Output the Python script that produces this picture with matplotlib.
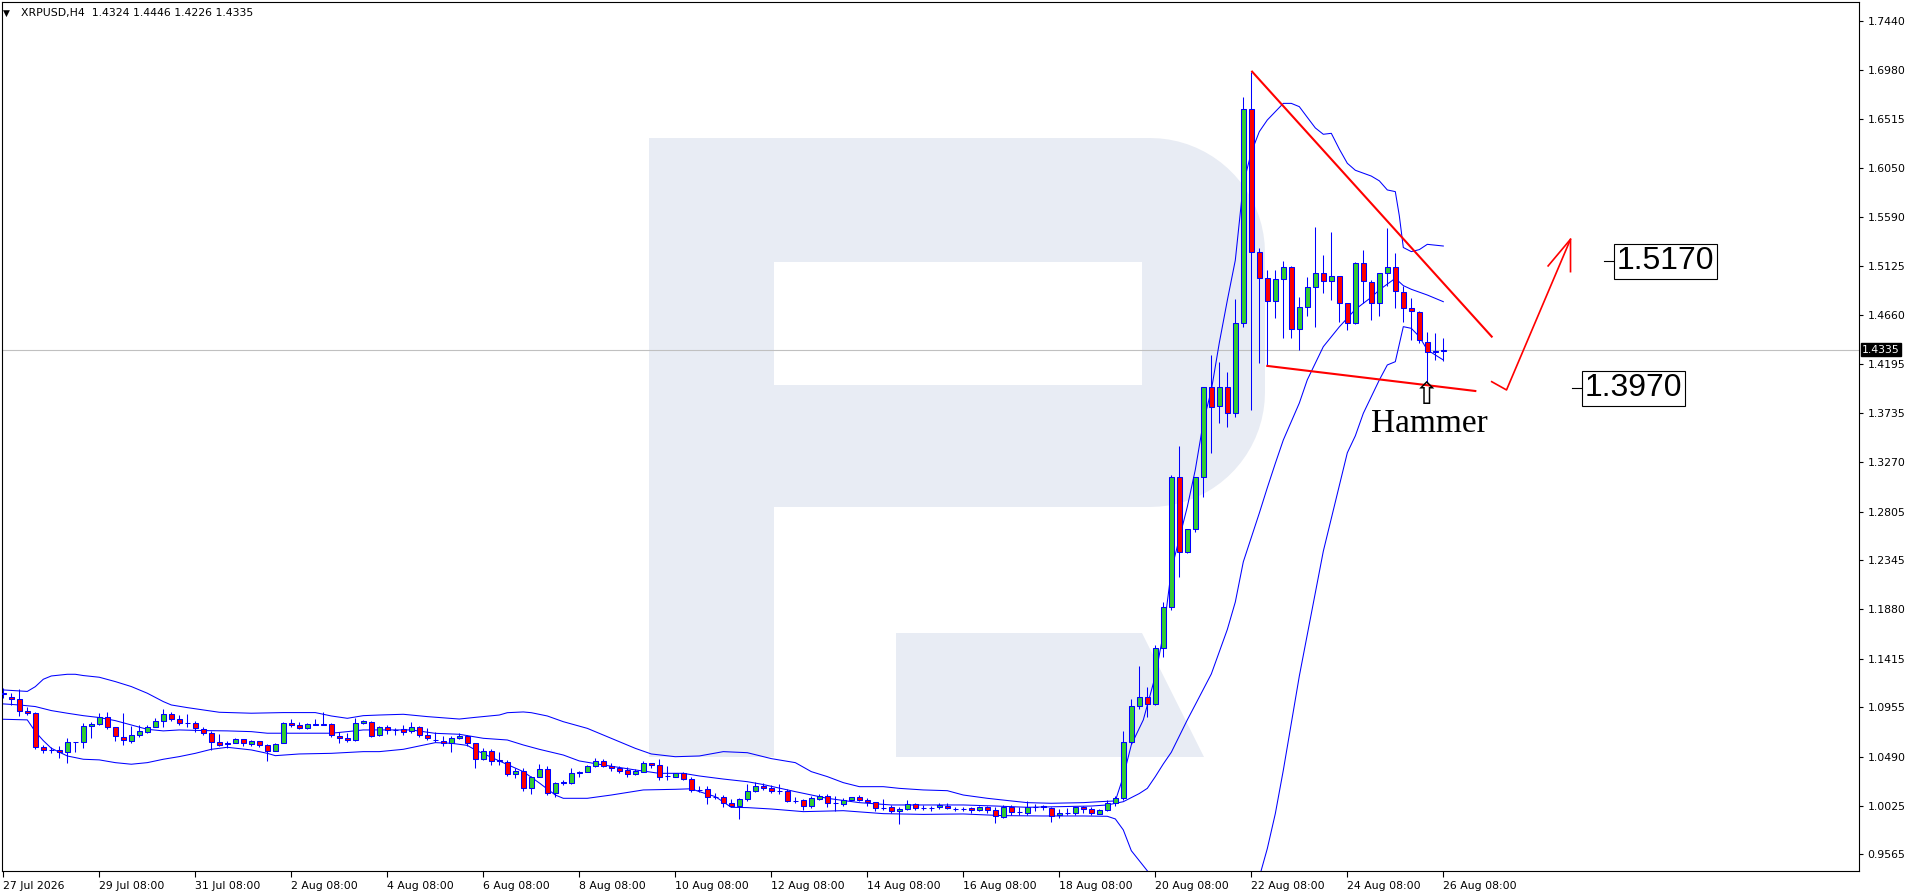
import matplotlib
matplotlib.use('Agg')

import numpy as np
import matplotlib.pyplot as plt
from matplotlib.patches import Polygon
from matplotlib.transforms import blended_transform_factory

# --- candles XRPUSD H4 (bar 0 = 27 Jul 2026) ---
opens = [
    1.1088, 1.1050, 1.1031, 1.0921, 1.0899, 1.0577, 1.0552, 1.0552, 1.0530, 1.0628,
    1.0624, 1.0776, 1.0795, 1.0861, 1.0766, 1.0678, 1.0640, 1.0691, 1.0725, 1.0766,
    1.0826, 1.0889, 1.0842, 1.0804, 1.0804, 1.0754, 1.0709, 1.0624, 1.0618, 1.0618,
    1.0653, 1.0606, 1.0634, 1.0596, 1.0539, 1.0615, 1.0807, 1.0785, 1.0757, 1.0788,
    1.0795, 1.0795, 1.0687, 1.0662, 1.0647, 1.0804, 1.0820, 1.0690, 1.0772, 1.0744,
    1.0747, 1.0731, 1.0766, 1.0693, 1.0650, 1.0640, 1.0621, 1.0662, 1.0684, 1.0615,
    1.0463, 1.0545, 1.0457, 1.0441, 1.0325, 1.0353, 1.0189, 1.0293, 1.0369, 1.0142,
    1.0240, 1.0237, 1.0337, 1.0341, 1.0400, 1.0451, 1.0403, 1.0378, 1.0362, 1.0325,
    1.0347, 1.0432, 1.0410, 1.0305, 1.0300, 1.0331, 1.0274, 1.0174, 1.0180, 1.0107,
    1.0111, 1.0048, 1.0026, 1.0085, 1.0164, 1.0211, 1.0192, 1.0164, 1.0164, 1.0073,
    1.0079, 1.0022, 1.0089, 1.0117, 1.0048, 1.0041, 1.0079, 1.0104, 1.0079, 1.0057,
    1.0004, 1.0010, 0.9972, 0.9991, 1.0038, 1.0004, 1.0007, 1.0010, 1.0022, 0.9997,
    0.9997, 1.0003, 0.9981, 1.0016, 0.9985, 0.9915, 1.0010, 0.9969, 0.9959, 1.0016,
    1.0022, 1.0007, 0.9937, 0.9959, 0.9959, 1.0010, 0.9991, 0.9944, 0.9985, 1.0048,
    1.0095, 1.0630, 1.0971, 1.1056, 1.0987, 1.1513, 1.1906, 1.3129, 1.2426, 1.2637,
    1.3129, 1.3979, 1.3803, 1.3979, 1.3733, 1.4584, 1.6606, 1.5261, 1.5009, 1.4794,
    1.5000, 1.5113, 1.4527, 1.4735, 1.4924, 1.5056, 1.4987, 1.5031, 1.4772, 1.4584,
    1.5151, 1.4977, 1.4772, 1.5056, 1.5119, 1.4883, 1.4725, 1.4694, 1.4410, 1.4309,
    1.4324]
highs = [
    1.1135, 1.1088, 1.1125, 1.0962, 1.0914, 1.0599, 1.0584, 1.0590, 1.0662, 1.0628,
    1.0804, 1.0820, 1.0899, 1.0914, 1.0766, 1.0899, 1.0779, 1.0788, 1.0788, 1.0851,
    1.0939, 1.0914, 1.0883, 1.0889, 1.0829, 1.0766, 1.0732, 1.0700, 1.0640, 1.0662,
    1.0653, 1.0647, 1.0640, 1.0609, 1.0621, 1.0820, 1.0842, 1.0820, 1.0804, 1.0842,
    1.0914, 1.0804, 1.0725, 1.0709, 1.0851, 1.0836, 1.0826, 1.0780, 1.0788, 1.0756,
    1.0788, 1.0813, 1.0778, 1.0756, 1.0718, 1.0684, 1.0684, 1.0709, 1.0693, 1.0621,
    1.0567, 1.0558, 1.0536, 1.0457, 1.0378, 1.0378, 1.0306, 1.0416, 1.0400, 1.0252,
    1.0268, 1.0378, 1.0353, 1.0410, 1.0479, 1.0463, 1.0426, 1.0400, 1.0394, 1.0369,
    1.0448, 1.0432, 1.0463, 1.0400, 1.0337, 1.0347, 1.0299, 1.0211, 1.0211, 1.0148,
    1.0126, 1.0085, 1.0095, 1.0230, 1.0252, 1.0237, 1.0221, 1.0230, 1.0180, 1.0111,
    1.0085, 1.0117, 1.0136, 1.0136, 1.0117, 1.0095, 1.0111, 1.0126, 1.0095, 1.0063,
    1.0085, 1.0032, 1.0010, 1.0079, 1.0048, 1.0032, 1.0022, 1.0048, 1.0048, 1.0016,
    1.0016, 1.0016, 1.0022, 1.0022, 1.0010, 1.0032, 1.0032, 1.0010, 1.0073, 1.0041,
    1.0032, 1.0016, 0.9991, 1.0000, 1.0016, 1.0022, 1.0016, 0.9991, 1.0079, 1.0117,
    1.0732, 1.1031, 1.1346, 1.1144, 1.1544, 1.1954, 1.3151, 1.3425, 1.2637, 1.3129,
    1.3979, 1.4285, 1.4222, 1.4127, 1.4810, 1.6725, 1.6962, 1.5292, 1.5088, 1.5088,
    1.5176, 1.5125, 1.4829, 1.5018, 1.5497, 1.5229, 1.5450, 1.5031, 1.4772, 1.5166,
    1.5276, 1.4993, 1.5056, 1.5481, 1.5251, 1.4936, 1.4820, 1.4703, 1.4505, 1.4489,
    1.4446]
lows = [
    1.1040, 1.0977, 1.0870, 1.0883, 1.0565, 1.0527, 1.0527, 1.0473, 1.0432, 1.0536,
    1.0574, 1.0662, 1.0788, 1.0747, 1.0640, 1.0599, 1.0621, 1.0678, 1.0709, 1.0766,
    1.0772, 1.0829, 1.0788, 1.0766, 1.0725, 1.0694, 1.0552, 1.0590, 1.0568, 1.0615,
    1.0590, 1.0590, 1.0584, 1.0451, 1.0539, 1.0615, 1.0772, 1.0747, 1.0754, 1.0785,
    1.0788, 1.0678, 1.0615, 1.0631, 1.0640, 1.0795, 1.0678, 1.0680, 1.0700, 1.0693,
    1.0693, 1.0709, 1.0678, 1.0646, 1.0630, 1.0589, 1.0536, 1.0652, 1.0589, 1.0385,
    1.0457, 1.0410, 1.0410, 1.0306, 1.0284, 1.0167, 1.0136, 1.0293, 1.0126, 1.0111,
    1.0221, 1.0230, 1.0300, 1.0341, 1.0394, 1.0388, 1.0356, 1.0331, 1.0293, 1.0315,
    1.0347, 1.0378, 1.0268, 1.0268, 1.0293, 1.0268, 1.0158, 1.0158, 1.0038, 1.0085,
    1.0010, 1.0016, 0.9896, 1.0070, 1.0158, 1.0174, 1.0148, 1.0136, 1.0063, 1.0048,
    0.9985, 1.0000, 1.0079, 1.0016, 0.9978, 1.0022, 1.0073, 1.0073, 1.0022, 0.9978,
    0.9985, 0.9953, 0.9849, 0.9985, 0.9985, 0.9985, 0.9978, 0.9991, 0.9991, 0.9978,
    0.9978, 0.9959, 0.9978, 0.9953, 0.9865, 0.9906, 0.9937, 0.9937, 0.9937, 0.9978,
    0.9985, 0.9874, 0.9906, 0.9937, 0.9937, 0.9953, 0.9937, 0.9944, 0.9978, 1.0022,
    1.0079, 1.0610, 1.0936, 1.0861, 1.0980, 1.1434, 1.1875, 1.2184, 1.2410, 1.2615,
    1.2946, 1.3362, 1.3645, 1.3601, 1.3702, 1.4552, 1.3765, 1.4206, 1.4180, 1.4631,
    1.4442, 1.4442, 1.4332, 1.4653, 1.4552, 1.4867, 1.4804, 1.4599, 1.4521, 1.4577,
    1.4772, 1.4615, 1.4653, 1.4936, 1.4725, 1.4599, 1.4426, 1.4401, 1.4017, 1.4237,
    1.4226]
closes = [
    1.1085, 1.1031, 1.0917, 1.0899, 1.0577, 1.0549, 1.0552, 1.0530, 1.0624, 1.0628,
    1.0779, 1.0798, 1.0861, 1.0766, 1.0684, 1.0647, 1.0691, 1.0728, 1.0766, 1.0826,
    1.0889, 1.0842, 1.0804, 1.0804, 1.0757, 1.0709, 1.0624, 1.0602, 1.0612, 1.0653,
    1.0615, 1.0634, 1.0599, 1.0539, 1.0609, 1.0804, 1.0785, 1.0757, 1.0795, 1.0795,
    1.0791, 1.0694, 1.0662, 1.0647, 1.0804, 1.0826, 1.0687, 1.0772, 1.0740, 1.0740,
    1.0725, 1.0766, 1.0693, 1.0662, 1.0646, 1.0621, 1.0662, 1.0684, 1.0615, 1.0463,
    1.0545, 1.0451, 1.0451, 1.0325, 1.0353, 1.0189, 1.0293, 1.0369, 1.0142, 1.0237,
    1.0246, 1.0331, 1.0341, 1.0400, 1.0451, 1.0400, 1.0378, 1.0356, 1.0325, 1.0356,
    1.0432, 1.0410, 1.0293, 1.0306, 1.0331, 1.0274, 1.0174, 1.0171, 1.0111, 1.0104,
    1.0048, 1.0026, 1.0085, 1.0164, 1.0211, 1.0189, 1.0161, 1.0167, 1.0073, 1.0073,
    1.0025, 1.0095, 1.0117, 1.0048, 1.0048, 1.0079, 1.0104, 1.0079, 1.0057, 1.0000,
    1.0007, 0.9972, 0.9994, 1.0038, 1.0000, 1.0007, 1.0004, 1.0032, 1.0000, 0.9997,
    0.9994, 0.9985, 1.0010, 0.9985, 0.9928, 1.0010, 0.9969, 0.9969, 1.0016, 1.0016,
    1.0016, 0.9931, 0.9953, 0.9959, 1.0010, 0.9994, 0.9953, 0.9985, 1.0048, 1.0095,
    1.0624, 1.0971, 1.1056, 1.0987, 1.1513, 1.1906, 1.3129, 1.2426, 1.2637, 1.3129,
    1.3979, 1.3790, 1.3979, 1.3733, 1.4584, 1.6606, 1.5261, 1.5009, 1.4794, 1.5000,
    1.5113, 1.4527, 1.4735, 1.4924, 1.5056, 1.4987, 1.5031, 1.4772, 1.4584, 1.5151,
    1.4987, 1.4772, 1.5056, 1.5119, 1.4892, 1.4725, 1.4703, 1.4426, 1.4309, 1.4324,
    1.4335]

# --- bollinger bands (bar index, price) ---
upper_idx = [0, 3, 4, 5, 6, 8, 9, 10, 12, 14, 16, 18, 20, 21, 23, 25, 27, 31, 35, 39,
             41, 43, 45, 47, 50, 53, 57, 59, 62, 63, 65, 66, 68, 70, 73, 75, 77, 79, 81, 84,
             87, 90, 93, 96, 99, 101, 103, 105, 107, 110, 112, 115, 118, 120, 123, 126, 128, 131, 135, 137,
             139, 140, 141, 142.5, 144, 145, 146, 147, 148, 149, 150, 151, 152, 153, 154, 155, 156, 157, 158, 160,
             161, 162, 163, 164, 165, 166, 167, 168, 169, 171, 172, 173, 174, 174.5, 175, 176, 177, 178, 180]
upper_val = [1.1119, 1.1105, 1.1150, 1.1220, 1.1251, 1.1267, 1.1267, 1.1255, 1.1239, 1.1198,
             1.1151, 1.1088, 1.1009, 1.0977, 1.0952, 1.0930, 1.0908, 1.0899, 1.0905, 1.0905,
             1.0873, 1.0851, 1.0876, 1.0882, 1.0889, 1.0867, 1.0844, 1.0860, 1.0882, 1.0904,
             1.0911, 1.0904, 1.0873, 1.0819, 1.0756, 1.0693, 1.0630, 1.0567, 1.0514, 1.0488,
             1.0495, 1.0536, 1.0526, 1.0470, 1.0432, 1.0347, 1.0300, 1.0243, 1.0205, 1.0205,
             1.0189, 1.0174, 1.0167, 1.0126, 1.0095, 1.0070, 1.0054, 1.0048, 1.0054, 1.0063,
             1.0070, 1.0300, 1.0600, 1.0836, 1.1250, 1.1650, 1.2250, 1.2550, 1.2850, 1.3200,
             1.3650, 1.3950, 1.4400, 1.4800, 1.5180, 1.5900, 1.6200, 1.6395, 1.6505, 1.6662,
             1.6662, 1.6631, 1.6530, 1.6430, 1.6370, 1.6379, 1.6230, 1.6096, 1.6030, 1.5975,
             1.5930, 1.5844, 1.5828, 1.5600, 1.5300, 1.5261, 1.5280, 1.5330, 1.5314]
middle_idx = [0, 2, 4, 6, 8, 10, 12, 14, 16, 18, 20, 22, 25, 28, 31, 33, 37, 41, 43, 45,
              47, 51, 54, 57, 60, 63, 65, 67, 70, 72, 75, 79, 82, 85, 87, 90, 93, 95, 99, 103,
              107, 111, 115, 120, 124, 128, 132, 136, 138, 140, 142, 143, 144, 145, 146, 148, 149, 151, 153, 154,
              155, 157, 158, 159, 160, 162, 163, 165, 167, 169, 171, 172, 174, 175, 176, 178, 180]
middle_val = [1.0987, 1.0977, 1.0962, 1.0924, 1.0899, 1.0876, 1.0858, 1.0829, 1.0788, 1.0747,
              1.0732, 1.0741, 1.0735, 1.0732, 1.0725, 1.0710, 1.0710, 1.0710, 1.0725, 1.0741,
              1.0741, 1.0741, 1.0709, 1.0700, 1.0662, 1.0646, 1.0599, 1.0558, 1.0504, 1.0448,
              1.0410, 1.0363, 1.0331, 1.0331, 1.0306, 1.0277, 1.0252, 1.0225, 1.0158, 1.0095,
              1.0054, 1.0032, 1.0032, 1.0032, 1.0022, 1.0010, 1.0016, 1.0022, 1.0032, 1.0063,
              1.0140, 1.0189, 1.0300, 1.0420, 1.0530, 1.0836, 1.0980, 1.1270, 1.1690, 1.1950,
              1.2330, 1.2790, 1.3030, 1.3260, 1.3481, 1.3830, 1.4050, 1.4363, 1.4550, 1.4715,
              1.4830, 1.4899, 1.5009, 1.4940, 1.4905, 1.4851, 1.4788]
lower_idx = [0, 3, 4, 5, 6, 8, 10, 12, 14, 16, 18, 20, 22, 24, 26, 28, 31, 33, 34, 37,
             41, 45, 47, 50, 54, 56, 58, 59, 62, 65, 67, 69, 70, 73, 76, 80, 84, 86, 87, 89,
             91, 93, 96, 100, 105, 110, 115, 120, 125, 130, 135, 138, 139, 140, 141, 143, 146, 149, 152, 155,
             157, 158, 159, 160, 162, 165, 168, 169, 170, 172, 173, 174, 175, 176, 177, 178, 180]
lower_val = [1.0842, 1.0836, 1.0725, 1.0640, 1.0568, 1.0495, 1.0464, 1.0458, 1.0432, 1.0417,
             1.0432, 1.0464, 1.0489, 1.0520, 1.0558, 1.0577, 1.0552, 1.0520, 1.0498, 1.0514,
             1.0520, 1.0536, 1.0536, 1.0558, 1.0621, 1.0615, 1.0595, 1.0552, 1.0448, 1.0347,
             1.0240, 1.0126, 1.0095, 1.0095, 1.0126, 1.0174, 1.0180, 1.0185, 1.0158, 1.0111,
             1.0010, 1.0007, 0.9994, 0.9969, 0.9978, 0.9950, 0.9943, 0.9947, 0.9931, 0.9928,
             0.9928, 0.9925, 0.9900, 0.9796, 0.9600, 0.9410, 0.8900, 0.8600, 0.8600, 0.9000,
             0.9350, 0.9620, 0.9950, 1.0360, 1.1250, 1.2430, 1.3360, 1.3520, 1.3733, 1.4048,
             1.4190, 1.4221, 1.4552, 1.4536, 1.4458, 1.4332, 1.4237]

# --- axis ticks ---
ytick_vals = [1.7440, 1.6980, 1.6515, 1.6050, 1.5590, 1.5125, 1.4660, 1.4195, 1.3735,
              1.3270, 1.2805, 1.2345, 1.1880, 1.1415, 1.0955, 1.0490, 1.0025, 0.9565]
xtick_bars = [0, 12, 24, 36, 48, 60, 72, 84, 96, 108, 120, 132, 144, 156, 168, 180]
xtick_labels = ['27 Jul 2026', '29 Jul 08:00', '31 Jul 08:00', '2 Aug 08:00', '4 Aug 08:00',
                '6 Aug 08:00', '8 Aug 08:00', '10 Aug 08:00', '12 Aug 08:00', '14 Aug 08:00',
                '16 Aug 08:00', '18 Aug 08:00', '20 Aug 08:00', '22 Aug 08:00', '24 Aug 08:00',
                '26 Aug 08:00']

# --- drawn analysis ---
last_price = 1.4335
resist_x, resist_y = [156.1, 186.05], [1.6962, 1.4458]
support_x, support_y = [158.0, 184.0], [1.4181, 1.3944]
arrow_x, arrow_y = [186.05, 187.9, 195.9], [1.4032, 1.3954, 1.5378]
head_x, head_y = [193.1, 195.9, 195.9], [1.5126, 1.5378, 1.5072]
target_up, target_down = 1.5170, 1.3970

W, H = 1916, 896
fig = plt.figure(figsize=(W / 100, H / 100), dpi=100)
ax = fig.add_axes([2 / W, (H - 871) / H, 1857 / W, 869 / H])
ax.set_xlim(-0.1625, 231.96)
ax.set_ylim(0.9408, 1.7620)


def px(x, y):
    # pixel position inside the plot -> axes fraction (for the watermark)
    return ((x - 2) / 1857, (871 - y) / 869)


# watermark "R"
wm = '#e8ecf4'
r = 115
bowl = [(649, 138), (1265 - r, 138)]
for t in np.linspace(-np.pi / 2, 0, 20):
    bowl.append((1265 - r + r * np.cos(t), 138 + r + r * np.sin(t)))
for t in np.linspace(0, np.pi / 2, 20):
    bowl.append((1265 - r + r * np.cos(t), 507 - r + r * np.sin(t)))
bowl.append((649, 507))
ax.add_patch(Polygon([px(*p) for p in bowl], closed=True, fc=wm, ec='none',
                     transform=ax.transAxes, zorder=0))
ax.add_patch(Polygon([px(649, 138), px(774, 138), px(774, 757), px(649, 757)], closed=True,
                     fc=wm, ec='none', transform=ax.transAxes, zorder=0))
ax.add_patch(Polygon([px(896, 633), px(1142, 633), px(1204, 757), px(896, 757)], closed=True,
                     fc=wm, ec='none', transform=ax.transAxes, zorder=0))
ax.add_patch(Polygon([px(774, 262), px(1142, 262), px(1142, 385), px(774, 385)], closed=True,
                     fc='white', ec='none', transform=ax.transAxes, zorder=0.5))

ax.axhline(last_price, color='#c0c0c0', lw=0.8, zorder=1)

# bollinger bands
for bx, by in [(upper_idx, upper_val), (middle_idx, middle_val), (lower_idx, lower_val)]:
    ax.plot(bx, by, color='#0000ff', lw=0.75, zorder=2)

# candles
o = np.array(opens)
h = np.array(highs)
l = np.array(lows)
c = np.array(closes)
x = np.arange(len(o))
ax.vlines(x, l, h, color='#0000ff', lw=0.75, zorder=3)
fills = np.where(c >= o, '#32cd32', '#ff0000')
ax.bar(x, np.abs(c - o), bottom=np.minimum(o, c), width=0.62, color=fills,
       edgecolor='#0000ff', linewidth=0.75, zorder=4)

# trend lines and forecast arrow
ax.plot(resist_x, resist_y, color='#ff0000', lw=1.5, zorder=5)
ax.plot(support_x, support_y, color='#ff0000', lw=1.5, zorder=5)
ax.plot(arrow_x, arrow_y, color='#ff0000', lw=1.2, zorder=5)
ax.plot(head_x, head_y, color='#ff0000', lw=1.2, zorder=5)

# level labels
box = dict(boxstyle='square,pad=0.08', fc='white', ec='black', lw=0.8)
ax.plot([200.1, 201.4], [target_up, target_up], color='black', lw=0.8, zorder=5)
ax.text(201.7, target_up, '%.4f' % target_up, family='Liberation Sans', fontsize=23,
        ha='left', va='center', bbox=box, zorder=6)
ax.plot([196.1, 197.4], [target_down, target_down], color='black', lw=0.8, zorder=5)
ax.text(197.7, target_down, '%.4f' % target_down, family='Liberation Sans', fontsize=23,
        ha='left', va='center', bbox=box, zorder=6)

ax.text(177.9, 1.3900, '\u21e7', family='DejaVu Sans', fontsize=22, ha='center', va='center', zorder=6)
ax.text(178.2, 1.3775, 'Hammer', family='Liberation Serif', fontsize=24, ha='center', va='top', zorder=6)

# header
ax.text(0.0025, 0.9873, '\u25bc', fontsize=6.5, ha='center', va='center', transform=ax.transAxes)
ax.text(0.0102, 0.9873, 'XRPUSD,H4  1.4324 1.4446 1.4226 1.4335', fontsize=7.8,
        ha='left', va='center', transform=ax.transAxes)

# axes
ax.yaxis.tick_right()
ax.set_yticks(ytick_vals)
ax.set_yticklabels(['%.4f' % v for v in ytick_vals])
ax.set_xticks(xtick_bars)
ax.set_xticklabels(xtick_labels)
for lbl in ax.get_xticklabels():
    lbl.set_ha('left')
ax.tick_params(axis='y', direction='out', length=3, width=0.8, pad=3, labelsize=7.8)
ax.tick_params(axis='x', direction='out', length=4, width=0.8, pad=3, labelsize=7.8)
for s in ax.spines.values():
    s.set_linewidth(0.8)
    s.set_color('black')

trans = blended_transform_factory(ax.transAxes, ax.transData)
ax.text(1.0016, last_price, '%.4f' % last_price, transform=trans, color='white', fontsize=7.8,
        ha='left', va='center', clip_on=False,
        bbox=dict(boxstyle='square,pad=0.12', fc='black', ec='black'))

fig.savefig('out.png', dpi=100)
